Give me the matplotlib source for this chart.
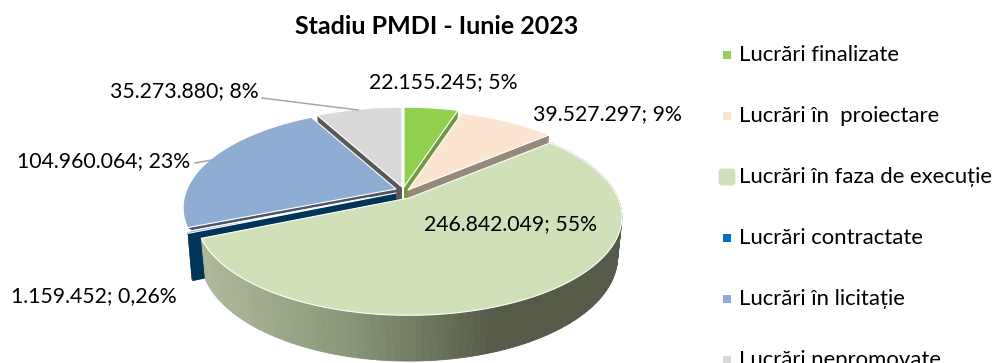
import numpy as np
import matplotlib
matplotlib.use("Agg")
import matplotlib.pyplot as plt
from matplotlib.patches import Rectangle, FancyBboxPatch
from matplotlib.colors import to_rgb

plt.rcParams['font.family'] = ['Lato', 'DejaVu Sans']

categories = ['Lucrări finalizate', 'Lucrări în  proiectare', 'Lucrări în faza de execuție',
              'Lucrări contractate', 'Lucrări în licitație', 'Lucrări nepromovate']
values = [22155245, 39527297, 246842049, 1159452, 104960064, 35273880]
percents = ['5%', '9%', '55%', '0,26%', '23%', '8%']

colors = ['#92d050', '#fbe5d0', '#d0e1b9', '#4f8fd0', '#8fadd3', '#d9d9d9']
legend_colors = ['#92d050', '#fbe5d0', '#d0e1b9', '#0070c0', '#8fadd3', '#d9d9d9']
wall_colors = ['#6f9a3e', '#96887a', '#555b48', '#003557', '#4d5666', '#595959']
# where the exploded slices have their tip, in pixels
tips = [(404, 187), (408, 190), (409, 198), (396, 193), (396, 189), (402, 187)]
depths = [40, 40, 39, 45, 3, 40]
label_pos = [(443, 82), (607, 114), (511, 224), (94, 296), (104, 161), (184, 91)]
draw_order = [5, 0, 1, 4, 3, 2]

RX, RY, K = 209, 95, 0.19


def project(tip, ang, r=1.0, low=False, depth=40):
    # unit disc to screen with a bit of perspective, ang clockwise from the top
    u = r * np.sin(np.radians(ang))
    v = r * np.cos(np.radians(ang))
    f = 1 / (1 + K * v)
    s = 0.98 if low else 1.0
    x = tip[0] + s * RX * u * f
    y = tip[1] - s * RY * v * f
    if low:
        y = y + depth * f
    return x, y


def lerp_color(x):
    stops_x = [207, 350, 497]
    stops_c = np.array([to_rgb('#aeb99a'), to_rgb('#8a9779'), to_rgb('#555b48')])
    return [np.interp(x, stops_x, stops_c[:, i]) for i in range(3)]


fig = plt.figure(figsize=(9.93, 3.63), dpi=100)
ax = fig.add_axes([0, 0, 1, 1])
ax.set_xlim(0, 993)
ax.set_ylim(363, 0)
ax.axis('off')

edges = np.cumsum([0] + values) / sum(values) * 360

for i in draw_order:
    a0, a1 = edges[i], edges[i + 1]
    tip = tips[i]
    d = depths[i]
    angs = np.linspace(a0, a1, 120)

    # cut walls of the slice
    for a in (a0, a1):
        rr = np.array([0, 1])
        xt, yt = project(tip, a, rr)
        xb, yb = project(tip, a, rr, low=True, depth=d)
        ax.fill(np.r_[xt, xb[::-1]], np.r_[yt, yb[::-1]], color=wall_colors[i], lw=0, zorder=2)

    # outer wall, only the big slice shows one
    if i == 2:
        xt, yt = project(tip, angs)
        xb, yb = project(tip, angs, low=True, depth=d)
        for j in range(len(angs) - 1):
            ax.fill([xt[j], xt[j + 1], xb[j + 1], xb[j]], [yt[j], yt[j + 1], yb[j + 1], yb[j]],
                    color=lerp_color(xt[j]), lw=0.6, zorder=2)
    elif i == 3:
        xt, yt = project(tip, angs)
        xb, yb = project(tip, angs, low=True, depth=d)
        ax.fill(np.r_[xt, xb[::-1]], np.r_[yt, yb[::-1]], color=wall_colors[i], lw=0, zorder=2)

    # top face
    xt, yt = project(tip, angs)
    ax.fill(np.r_[tip[0], xt], np.r_[tip[1], yt], facecolor=colors[i], edgecolor='white',
            lw=0.8, joinstyle='round', zorder=2)

# leader lines
ax.plot([262, 358], [98, 110], color='#a6a6a6', lw=1.1, zorder=3)
ax.plot([195, 212], [163, 160], color='#a6a6a6', lw=1.1, zorder=3)

# data labels
for i in range(len(values)):
    txt = f"{values[i]:,}".replace(',', '.') + '; ' + percents[i]
    ax.text(label_pos[i][0], label_pos[i][1], txt, fontsize=15.3, color='black',
            ha='center', va='center', zorder=4)

ax.text(437, 26, 'Stadiu PMDI - Iunie 2023', fontsize=18, fontweight='bold', color='black',
        ha='center', va='center')

# legend, the last row runs off the bottom like in the original
legend_y = [55, 116, 177, 238, 299, 360]
for i, name in enumerate(categories):
    y = legend_y[i]
    if i == 2:
        ax.add_patch(FancyBboxPatch((720, y - 7), 14, 14, boxstyle='round,pad=0,rounding_size=2',
                                    mutation_aspect=1, fc=legend_colors[i], ec=legend_colors[i], lw=2))
    else:
        ax.add_patch(Rectangle((723, y - 4), 8, 8, fc=legend_colors[i], ec='none'))
    ax.text(739, y, name, fontsize=15.9, color='black', ha='left', va='center')

fig.savefig('out.png', dpi=100)
